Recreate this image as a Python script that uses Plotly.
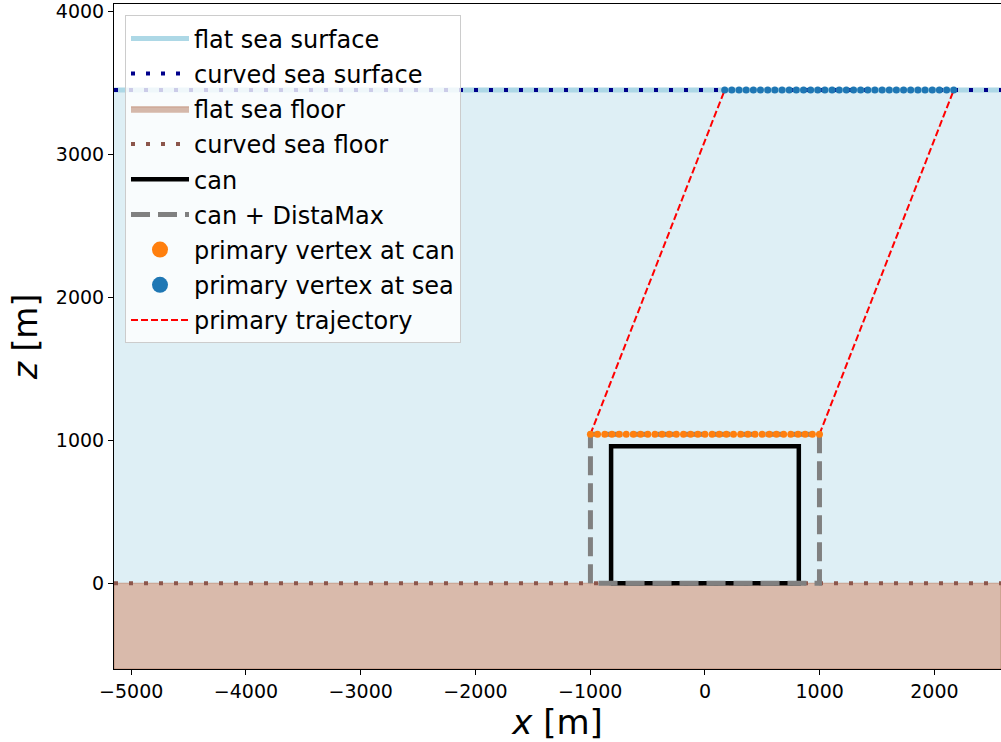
import plotly.graph_objects as go

# ---------------- data ----------------
x_range = [-5150, 2580]
z_range = [-600, 4050]
x_ticks = [-5000, -4000, -3000, -2000, -1000, 0, 1000, 2000]
z_ticks = [0, 1000, 2000, 3000, 4000]

sea_surface_z = 3448
sea_floor_z = 0
x_left_end = -5150
x_right_end = 2580
floor_bottom_z = -600

can_x = [-818, -818, 818, 818, -818]
can_z = [0, 958, 958, 0, 0]

dmax_x = [-998, -998, 998, 998, -998]
dmax_z = [0, 1042, 1042, 0, 0]

vertex_can_x = [-998, -936, -873, -811, -748, -686, -623, -561, -498, -436, -374, -311,
                -249, -187, -125, -62, 0, 62, 125, 187, 249, 311, 374, 436, 498, 561,
                623, 686, 748, 811, 873, 936, 998]
vertex_can_z = [1042] * len(vertex_can_x)

vertex_sea_x = [172, 234, 297, 359, 422, 484, 547, 609, 672, 734, 796, 859,
                921, 983, 1045, 1108, 1170, 1232, 1295, 1357, 1419, 1481, 1544, 1606,
                1668, 1731, 1793, 1856, 1918, 1981, 2043, 2106, 2168]
vertex_sea_z = [3448] * len(vertex_sea_x)

traj_x = [-998, 172, None, 998, 2168]
traj_z = [1042, 3448, None, 1042, 3448]

# ---------------- figure ----------------
fig = go.Figure()

# sea water fill
fig.add_trace(go.Scatter(
    x=[x_left_end, x_right_end, x_right_end, x_left_end, x_left_end],
    y=[sea_floor_z, sea_floor_z, sea_surface_z, sea_surface_z, sea_floor_z],
    fill="toself", fillcolor="rgba(173,216,230,0.4)", line=dict(width=0),
    mode="lines", showlegend=False, hoverinfo="skip"))

# flat sea surface
fig.add_trace(go.Scatter(
    x=[x_left_end, x_right_end], y=[sea_surface_z, sea_surface_z],
    mode="lines", line=dict(color="rgb(173,216,230)", width=5),
    name="flat sea surface", legendgroup="g1"))

# curved sea surface
fig.add_trace(go.Scatter(
    x=[x_left_end, x_right_end], y=[sea_surface_z, sea_surface_z],
    mode="lines", line=dict(color="#00008b", width=4, dash="4px,11px"),
    name="curved sea surface", legendgroup="g2"))

# flat sea floor
fig.add_trace(go.Scatter(
    x=[x_left_end, x_right_end, x_right_end, x_left_end, x_left_end],
    y=[sea_floor_z, sea_floor_z, floor_bottom_z, floor_bottom_z, sea_floor_z],
    fill="toself", fillcolor="rgba(160,82,45,0.4)",
    line=dict(color="rgba(160,82,45,0.4)", width=1),
    mode="lines", name="flat sea floor", legendgroup="g3", hoverinfo="skip"))

# curved sea floor
fig.add_trace(go.Scatter(
    x=[x_left_end, x_right_end], y=[sea_floor_z, sea_floor_z],
    mode="lines", line=dict(color="#8c564b", width=4, dash="4px,11px"),
    name="curved sea floor", legendgroup="g4"))

# can
fig.add_trace(go.Scatter(
    x=can_x, y=can_z, mode="lines", line=dict(color="black", width=4.5),
    name="can", legendgroup="g5"))

# can + DistaMax
fig.add_trace(go.Scatter(
    x=dmax_x, y=dmax_z, mode="lines",
    line=dict(color="gray", width=5, dash="19px,8px"),
    name="can + DistaMax", legendgroup="g6"))

# trajectories (drawn under vertices)
fig.add_trace(go.Scatter(
    x=traj_x, y=traj_z, mode="lines",
    line=dict(color="red", width=2, dash="7px,3px"),
    showlegend=False, legendgroup="g9"))

# vertices
fig.add_trace(go.Scatter(
    x=vertex_can_x, y=vertex_can_z, mode="markers",
    marker=dict(color="#ff7f0e", size=7), showlegend=False, legendgroup="g7"))
fig.add_trace(go.Scatter(
    x=vertex_sea_x, y=vertex_sea_z, mode="markers",
    marker=dict(color="#1f77b4", size=7), showlegend=False, legendgroup="g8"))

# legend proxies for vertices and trajectory
fig.add_trace(go.Scatter(
    x=[None], y=[None], mode="markers", marker=dict(color="#ff7f0e", size=16),
    name="primary vertex at can", legendgroup="g7"))
fig.add_trace(go.Scatter(
    x=[None], y=[None], mode="markers", marker=dict(color="#1f77b4", size=16),
    name="primary vertex at sea", legendgroup="g8"))
fig.add_trace(go.Scatter(
    x=[None], y=[None], mode="lines",
    line=dict(color="red", width=2, dash="7px,3px"),
    name="primary trajectory", legendgroup="g9"))

axis_common = dict(
    showgrid=False, zeroline=False, showline=True, linecolor="black", linewidth=1,
    mirror=True, ticks="outside", ticklen=5, tickcolor="black", automargin=False,
    ticklabeloverflow="allow",
    tickfont=dict(family="DejaVu Sans", size=19, color="black"),
)

fig.update_layout(
    width=1001, height=742,
    margin=dict(l=114, r=0, t=4, b=73),
    paper_bgcolor="white", plot_bgcolor="white",
    font=dict(family="DejaVu Sans", color="black"),
    xaxis=dict(range=x_range, tickvals=x_ticks,
               title=dict(text="<i>x</i> [m]", font=dict(size=34), standoff=0),
               **axis_common),
    yaxis=dict(range=z_range, tickvals=z_ticks,
               title=dict(text="<i>z</i> [m]", font=dict(size=33), standoff=8),
               **axis_common),
    legend=dict(x=0.0124, y=0.983, xanchor="left", yanchor="top",
                bgcolor="rgba(255,255,255,0.8)", bordercolor="#cccccc", borderwidth=1,
                font=dict(size=24, family="DejaVu Sans"), itemwidth=58,
                tracegroupgap=1),
)

fig.write_html("out.html", config={"displayModeBar": False},
               post_script="document.body.style.margin='0';document.body.style.overflow='hidden';")
